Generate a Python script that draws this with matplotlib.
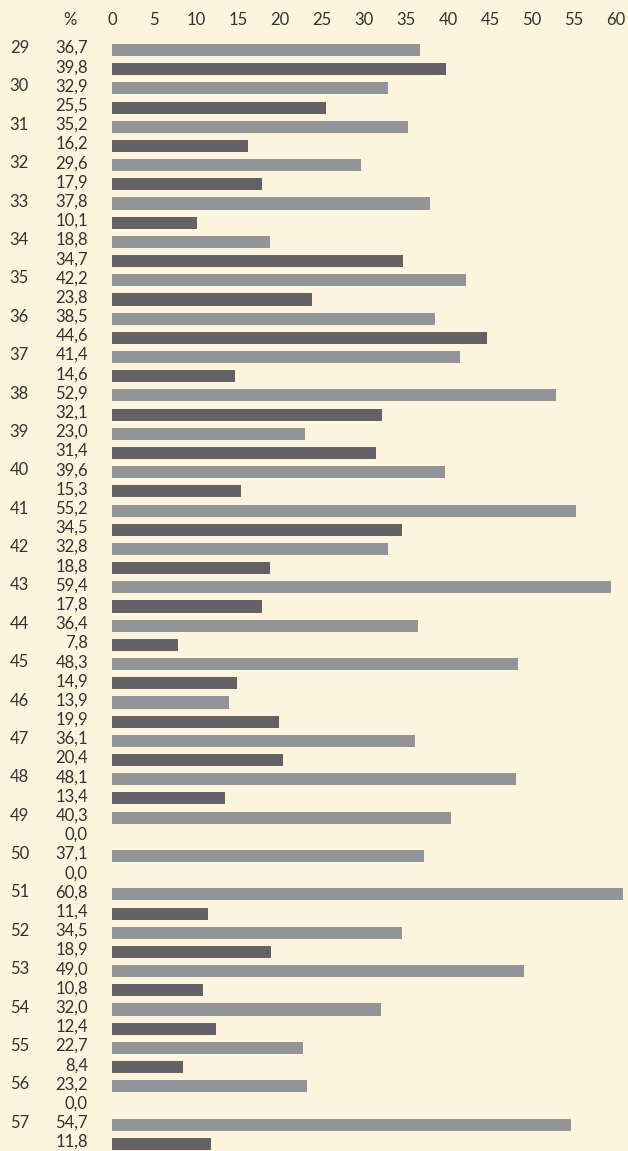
import matplotlib.pyplot as plt

plt.rcParams['font.family'] = ['Lato', 'DejaVu Sans']

groups = [str(n) for n in range(29, 58)]
light = [36.7, 32.9, 35.2, 29.6, 37.8, 18.8, 42.2, 38.5, 41.4, 52.9,
         23.0, 39.6, 55.2, 32.8, 59.4, 36.4, 48.3, 13.9, 36.1, 48.1,
         40.3, 37.1, 60.8, 34.5, 49.0, 32.0, 22.7, 23.2, 54.7]
dark = [39.8, 25.5, 16.2, 17.9, 10.1, 34.7, 23.8, 44.6, 14.6, 32.1,
        31.4, 15.3, 34.5, 18.8, 17.8, 7.8, 14.9, 19.9, 20.4, 13.4,
        0.0, 0.0, 11.4, 18.9, 10.8, 12.4, 8.4, 0.0, 11.8]
ticks = list(range(0, 65, 5))

bg = '#fdf4dd'
c_light = '#939498'
c_dark = '#636365'
txt = '#333333'

fig = plt.figure(figsize=(6.28, 11.51), dpi=100, facecolor=bg)
W, H = 628, 1151
x0 = 112
ppu = 8.4
ax = fig.add_axes([x0 / W, 0, 1 - x0 / W, 1])
ax.set_facecolor(bg)
ax.set_xlim(0, (W - x0) / ppu)
step = 19.19
y_first = 50
ax.set_ylim((H - y_first) / step, -y_first / step)
ax.axis('off')

fs = 12
for i, g in enumerate(groups):
    yl = 2 * i
    yd = 2 * i + 1
    ax.barh(yl, light[i], height=0.63, color=c_light)
    ax.barh(yd, dark[i], height=0.63, color=c_dark)
    ax.text(-24 / ppu, yl - 0.1, f'{light[i]:.1f}'.replace('.', ','), ha='right', va='center',
            fontsize=fs, color=txt, clip_on=False)
    ax.text(-24 / ppu, yd - 0.1, f'{dark[i]:.1f}'.replace('.', ','), ha='right', va='center',
            fontsize=fs, color=txt, clip_on=False)
    ax.text(-83 / ppu, yl - 0.1, g, ha='right', va='center',
            fontsize=fs, color=txt, clip_on=False)

ty = (20 - y_first) / step
for t in ticks:
    ax.text(t, ty, str(t), ha='center', va='center', fontsize=fs, color=txt)
ax.text(-42 / ppu, ty, '%', ha='center', va='center', fontsize=fs, color=txt, clip_on=False)

fig.savefig('out.png', dpi=100, facecolor=bg)
